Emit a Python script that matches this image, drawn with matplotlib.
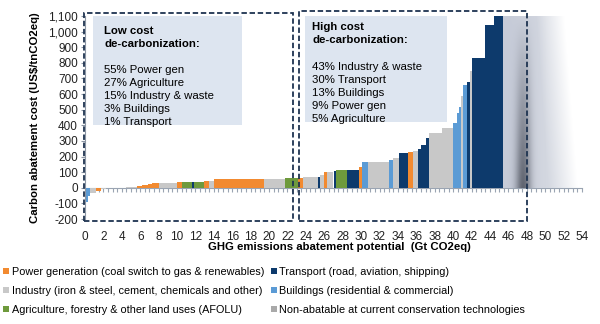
import matplotlib
matplotlib.use("Agg")
import matplotlib.pyplot as plt
import numpy as np
from matplotlib.patches import Rectangle
from matplotlib.lines import Line2D
from matplotlib.ticker import FuncFormatter, MultipleLocator

plt.rcParams['font.family'] = ['Liberation Sans', 'DejaVu Sans']

# abatement steps, left to right: width (Gt CO2eq), cost (US$/t), sector code
widths = [0.3, 0.2, 0.7, 0.5, 0.6, 2.2, 1.1, 0.6, 0.6, 0.5, 0.7, 2.0, 0.5, 1.1,
          0.2, 1.1, 0.6, 0.5, 5.4, 2.3, 1.4, 0.6, 1.6, 0.2, 0.5, 0.3, 0.7, 0.3,
          1.2, 1.3, 0.3, 0.7, 2.2, 0.5, 0.6, 1.0, 0.5, 0.6, 0.3, 0.5, 0.4, 1.4,
          1.2, 0.4, 0.2, 0.2, 0.3, 0.4, 0.3, 0.3, 1.4, 0.9, 1.0]
costs = [-90, -55, -35, -20, -10, -3, 5, 12, 20, 26, 32, 32, 36, 38,
         40, 40, 42, 42, 55, 56, 60, 64, 66, 72, 80, 98, 102, 110,
         113, 115, 130, 165, 167, 180, 190, 220, 232, 235, 250, 272, 320, 350,
         383, 415, 480, 520, 585, 660, 675, 745, 830, 1045, 1100]
sectors = ['B', 'B', 'I', 'P', 'I', 'I', 'I', 'P', 'P', 'P', 'P', 'I', 'P', 'G',
           'T', 'G', 'P', 'I', 'P', 'I', 'G', 'P', 'I', 'T', 'I', 'P', 'I', 'T',
           'G', 'T', 'P', 'B', 'I', 'B', 'I', 'T', 'P', 'I', 'T', 'T', 'T', 'I',
           'I', 'B', 'B', 'B', 'I', 'B', 'T', 'I', 'T', 'T', 'T']

# non-abatable block
nonab_start, nonab_end, nonab_top = 45.4, 53.5, 1100

sector_names = {
    'P': 'Power generation (coal switch to gas & renewables)',
    'I': 'Industry (iron & steel, cement, chemicals and other)',
    'G': 'Agriculture, forestry & other land uses (AFOLU)',
    'T': 'Transport (road, aviation, shipping)',
    'B': 'Buildings (residential & commercial)',
    'N': 'Non-abatable at current conservation technologies',
}
sector_colors = {'P': '#F28A30', 'I': '#C8C8C8', 'G': '#6E9A3C',
                 'T': '#0D3A6C', 'B': '#5B9BD5', 'N': '#A9A9A9'}

low_lines = ['55% Power gen', '27% Agriculture', '15% Industry & waste',
             '3% Buildings', '1% Transport']
high_lines = ['43% Industry & waste', '30% Transport', '13% Buildings',
              '9% Power gen', '5% Agriculture']

fig = plt.figure(figsize=(6.0, 3.24), dpi=100)
ax = fig.add_axes([85 / 600, 1 - 219 / 324, (582 - 85) / 600, (219 - 16) / 324])

lefts = np.concatenate([[0], np.cumsum(widths)[:-1]])
ax.bar(lefts, costs, width=widths, align='edge',
       color=[sector_colors[s] for s in sectors], linewidth=0, zorder=2)

# faded block for emissions that can't be abated
nx, ny = 240, 120
u = np.linspace(0, 1, nx)[None, :]
v = np.linspace(0, 1, ny)[:, None]
base = np.array([0.78, 0.80, 0.85])
light = np.array([0.83, 0.845, 0.88])
mix = np.clip((u - 0.1) / 0.5, 0, 1)
dark = 0.42 * np.exp(-((u - 0.27) / 0.1) ** 2) * (1 - v) ** 1.0
img = np.zeros((ny, nx, 4))
for k in range(3):
    img[..., k] = base[k] * (1 - mix) + light[k] * mix - dark
fade_start = 0.6 - 0.15 * v
fade_end = 1.0 - 0.18 * v
alpha = np.clip(1.0 - (u - fade_start) / (fade_end - fade_start), 0, 1)
img[..., :3] = np.clip(img[..., :3], 0, 1)
img[..., 3] = alpha
ax.imshow(img, extent=[nonab_start, nonab_end, 0, nonab_top], origin='lower',
          aspect='auto', zorder=1, interpolation='bilinear')

ax.set_xlim(0, 54)
ax.set_ylim(-200, 1100)

# axes styling
for side in ['top', 'right', 'bottom']:
    ax.spines[side].set_visible(False)
ax.spines['left'].set_color('#8C96A4')
ax.yaxis.set_major_locator(MultipleLocator(100))
ax.yaxis.set_major_formatter(FuncFormatter(lambda y, _: f'{int(y):,}'))
ax.tick_params(axis='y', length=3, color='#8C96A4', labelsize=8.5,
               labelcolor='#222222', pad=2)
ax.xaxis.set_major_locator(MultipleLocator(2))
ax.tick_params(axis='x', length=0, labelsize=8.5, labelcolor='#222222', pad=9)

# zero line with small ticks
zero_frac = (0 - (-200)) / (1100 - (-200))
zax = ax.secondary_xaxis(zero_frac)
zax.spines['bottom'].set_color('#9AA4B2')
zax.xaxis.set_major_locator(MultipleLocator(0.5))
zax.tick_params(axis='x', length=3, color='#9AA4B2', labelbottom=False, width=0.8)

ax.set_ylabel('Carbon abatement cost (US$/tnCO2eq)', fontsize=8.2,
              fontweight='bold', labelpad=6)
fig.text(0.565, 1 - 247 / 324, 'GHG emissions abatement potential  (Gt CO2eq)',
         ha='center', va='center', fontsize=8.2, fontweight='bold')

# dashed group boxes
box_kw = dict(fill=False, linestyle=(0, (3, 1.5)), linewidth=1.3,
              edgecolor='#1E3350', clip_on=False, zorder=5)
ax.add_patch(Rectangle((-0.1, -210), 22.7, 1330, **box_kw))
ax.add_patch(Rectangle((23.3, -210), 24.7, 1340, **box_kw))

# text panels
ax.add_patch(Rectangle((0.9, 405), 16.2, 700, facecolor='#DDE5F0',
                       edgecolor='none', zorder=3))
ax.add_patch(Rectangle((23.9, 423), 15.4, 680, facecolor='#DDE5F0',
                       edgecolor='none', zorder=3))
ax.text(2.1, 1035, 'Low cost\nde-carbonization:', fontsize=8.2,
        fontweight='bold', va='top', linespacing=1.4, zorder=4)
ax.text(2.1, 785, '\n'.join(low_lines), fontsize=8.2, va='top',
        linespacing=1.37, zorder=4)
ax.text(24.7, 1060, 'High cost\nde-carbonization:', fontsize=8.2,
        fontweight='bold', va='top', linespacing=1.4, zorder=4)
ax.text(24.7, 805, '\n'.join(high_lines), fontsize=8.2, va='top',
        linespacing=1.37, zorder=4)

# legend
order = ['P', 'I', 'G', 'T', 'B', 'N']
handles = [Line2D([], [], marker='s', linestyle='none', markersize=5,
                  markerfacecolor=sector_colors[k], markeredgewidth=0)
           for k in order]
fig.legend(handles, [sector_names[k] for k in order], ncol=2,
           loc='upper left', bbox_to_anchor=(0.0, 1 - 264 / 324),
           frameon=False, fontsize=7.8, handlelength=0.6, handletextpad=0.25,
           columnspacing=0.5, labelspacing=0.8, borderaxespad=0,
           borderpad=0.3)

fig.savefig('out.png', dpi=100)
